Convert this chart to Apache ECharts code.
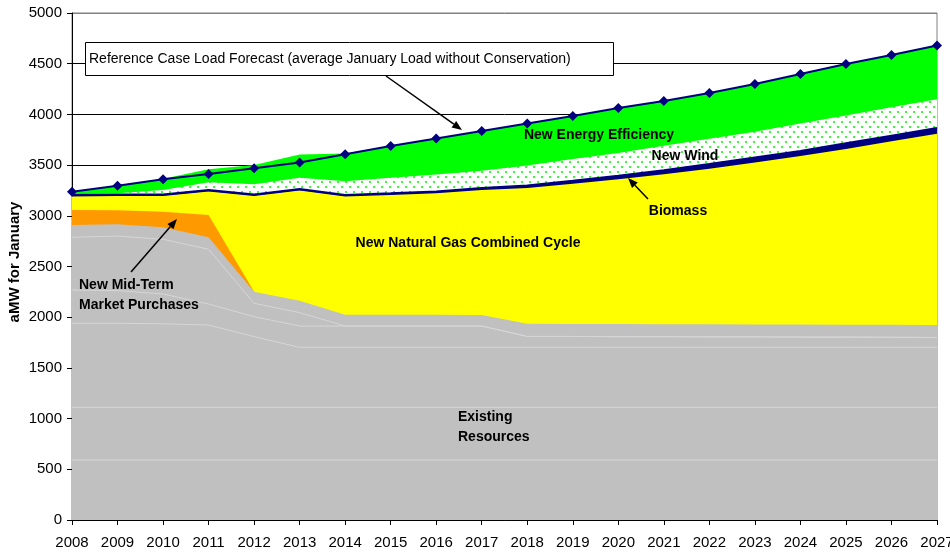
<!DOCTYPE html>
<html>
<head>
<meta charset="utf-8">
<script src="https://cdn.jsdelivr.net/npm/echarts@6/dist/echarts.min.js"></script>
<style>
  html, body { margin: 0; padding: 0; background: #fff; }
  #chart { width: 950px; height: 554px; }
</style>
</head>
<body>
<div id="chart"></div>
<script>
// years on the x axis
const years = ['2008', '2009', '2010', '2011', '2012', '2013', '2014', '2015', '2016', '2017',
  '2018', '2019', '2020', '2021', '2022', '2023', '2024', '2025', '2026', '2027'];

// reference case load forecast (diamond line), aMW
const loadForecast = [3238, 3297, 3360, 3412, 3468, 3525, 3606, 3688, 3762, 3836,
  3910, 3984, 4063, 4132, 4211, 4300, 4398, 4497, 4586, 4680];

// upper edge of each coloured band (aMW)
const efficiencyTop = [3240, 3300, 3365, 3460, 3500, 3605, 3615, 3688, 3762, 3836,
  3910, 3984, 4063, 4132, 4211, 4300, 4398, 4497, 4586, 4680];
const windTop = [3212, 3222, 3254, 3330, 3312, 3375, 3340, 3375, 3408, 3445,
  3495, 3560, 3620, 3690, 3760, 3830, 3910, 3990, 4070, 4150];
const biomassTop = [3205, 3210, 3210, 3255, 3210, 3265, 3205, 3222, 3240, 3275,
  3300, 3345, 3395, 3450, 3510, 3575, 3640, 3715, 3790, 3865];
const gasTop = [3190, 3195, 3195, 3240, 3195, 3250, 3190, 3205, 3222, 3255,
  3275, 3315, 3360, 3410, 3465, 3525, 3590, 3660, 3735, 3810];
const midTermTop = [3057, 3054, 3041, 3008, 2252, '-', '-', '-', '-', '-',
  '-', '-', '-', '-', '-', '-', '-', '-', '-', '-'];
const existingTop = [2909, 2916, 2886, 2788, 2252, 2163, 2025, 2025, 2025, 2022,
  1935, 1933, 1932, 1930, 1930, 1928, 1928, 1926, 1925, 1923];

// faint seams between the existing resource blocks
const existingSeam1 = [2788, 2800, 2768, 2670, 2137, 2045, 1913, 1913, 1913, 1913,
  1810, 1810, 1808, 1808, 1806, 1806, 1804, 1804, 1802, 1800];
const existingSeam2 = [2268, 2262, 2229, 2130, 2005, 1913, 1913, 1913, 1913, 1913,
  1810, 1810, 1808, 1808, 1806, 1806, 1804, 1804, 1802, 1800];
const existingSeam3 = [1940, 1940, 1935, 1923, 1808, 1703, 1703, 1703, 1703, 1703,
  1703, 1703, 1703, 1703, 1703, 1703, 1703, 1703, 1703, 1703];
const existingSeam4 = [1111, 1111, 1111, 1111, 1111, 1111, 1111, 1111, 1111, 1111,
  1111, 1111, 1111, 1111, 1111, 1111, 1111, 1111, 1111, 1111];
const existingSeam5 = [592, 592, 592, 592, 592, 592, 592, 592, 592, 592,
  592, 592, 592, 592, 592, 592, 592, 592, 592, 592];

const FONT = '"Liberation Sans", Arial, sans-serif';
const GRAY = '#c0c0c0';

// white fill with small green dots for the wind band
const dots = document.createElement('canvas');
dots.width = 8;
dots.height = 10;
const dctx = dots.getContext('2d');
dctx.fillStyle = '#ffffff';
dctx.fillRect(0, 0, 8, 10);
dctx.fillStyle = '#33ff33';
dctx.fillRect(1, 1, 2, 2);
dctx.fillRect(5, 6, 2, 2);

const band = (name, data, fill, line) => ({
  name: name,
  type: 'line',
  data: data,
  symbol: 'none',
  silent: true,
  areaStyle: { color: fill, opacity: 1 },
  lineStyle: line || { width: 0 },
});

const seamLine = { color: '#d6d6d6', width: 1 };

// arrow = line + filled head
const arrow = (x1, y1, x2, y2) => {
  const a = Math.atan2(y2 - y1, x2 - x1);
  const len = 10, half = 4;
  const bx = x2 - len * Math.cos(a), by = y2 - len * Math.sin(a);
  return [
    { type: 'line', z: 100, shape: { x1: x1, y1: y1, x2: bx, y2: by },
      style: { stroke: '#000', lineWidth: 1.5 } },
    { type: 'polygon', z: 100,
      shape: { points: [[x2, y2],
        [bx + half * Math.sin(a), by - half * Math.cos(a)],
        [bx - half * Math.sin(a), by + half * Math.cos(a)]] },
      style: { fill: '#000' } },
  ];
};

const label = (text, x, y, opts) => Object.assign({
  type: 'text', z: 100, x: x, y: y,
  style: { text: text, font: 'bold 14px ' + FONT, fill: '#000',
    align: 'center', verticalAlign: 'middle', lineHeight: 19 },
}, opts || {});

const chart = echarts.init(document.getElementById('chart'));

chart.setOption({
  animation: false,
  grid: { left: 72, right: 13, top: 13, bottom: 34, show: true, outerBoundsMode: 'none',
    borderColor: '#808080', borderWidth: 1, backgroundColor: 'transparent' },
  xAxis: {
    type: 'category',
    data: years,
    boundaryGap: false,
    axisLine: { lineStyle: { color: '#000', width: 1 } },
    axisTick: { show: true, interval: 0, length: 5, lineStyle: { color: '#000' } },
    axisLabel: { interval: 0, margin: 15, color: '#000', fontSize: 15, fontFamily: FONT,
      showMaxLabel: true },
    splitLine: { show: false },
  },
  yAxis: {
    type: 'value',
    min: 0,
    max: 5000,
    interval: 500,
    axisLine: { show: true, lineStyle: { color: '#000', width: 1 } },
    axisTick: { show: true, length: 5, lineStyle: { color: '#000' } },
    axisLabel: { margin: 10, color: '#000', fontSize: 15, fontFamily: FONT,
      formatter: (v) => String(v) },
    splitLine: { show: true, lineStyle: { width: 1,
      color: ['#000', '#000', '#000', '#000', '#000', '#000', '#000', '#000', '#000', '#000', '#808080'] } },
  },
  series: [
    band('New Energy Efficiency', efficiencyTop, '#00ff00'),
    band('New Wind', windTop, { image: dots, repeat: 'repeat' }),
    band('Biomass', biomassTop, '#000080', { color: '#000080', width: 2 }),
    band('New Natural Gas Combined Cycle', gasTop, '#ffff00'),
    band('New Mid-Term Market Purchases', midTermTop, '#ff9900'),
    band('Existing Resources', existingTop, GRAY),
    band('seam1', existingSeam1, GRAY, seamLine),
    band('seam2', existingSeam2, GRAY, seamLine),
    band('seam3', existingSeam3, GRAY, seamLine),
    band('seam4', existingSeam4, GRAY, seamLine),
    band('seam5', existingSeam5, GRAY, seamLine),
    {
      name: 'Reference Case Load Forecast',
      type: 'line',
      data: loadForecast,
      symbol: 'diamond',
      symbolSize: 10,
      itemStyle: { color: '#000080' },
      lineStyle: { color: '#000080', width: 2 },
      z: 5,
    },
  ],
  graphic: [
    { type: 'rect', z: 100, shape: { x: 85.5, y: 42.5, width: 528, height: 33 },
      style: { fill: '#fff', stroke: '#000', lineWidth: 1 } },
    { type: 'text', z: 101, x: 89, y: 59,
      style: { text: 'Reference Case Load Forecast (average January Load without Conservation)',
        font: '14px ' + FONT, fill: '#000', verticalAlign: 'middle' } },
    ...arrow(386, 76, 462, 130),
    label('New Energy Efficiency', 599, 135),
    label('New Wind', 685, 156),
    label('Biomass', 678, 211),
    ...arrow(648, 199, 628, 178),
    label('New Natural Gas Combined Cycle', 468, 243),
    label('New Mid-Term\nMarket Purchases', 79, 295, {
      style: { text: 'New Mid-Term\nMarket Purchases', font: 'bold 14px ' + FONT, fill: '#000',
        align: 'left', verticalAlign: 'middle', lineHeight: 20 } }),
    ...arrow(131, 272, 177, 219),
    label('Existing\nResources', 458, 427, {
      style: { text: 'Existing\nResources', font: 'bold 14px ' + FONT, fill: '#000',
        align: 'left', verticalAlign: 'middle', lineHeight: 20 } }),
    { type: 'text', z: 100, x: 15, y: 262, rotation: Math.PI / 2,
      style: { text: 'aMW for January', font: 'bold 15px ' + FONT, fill: '#000',
        align: 'center', verticalAlign: 'middle' } },
  ],
});
</script>
</body>
</html>
